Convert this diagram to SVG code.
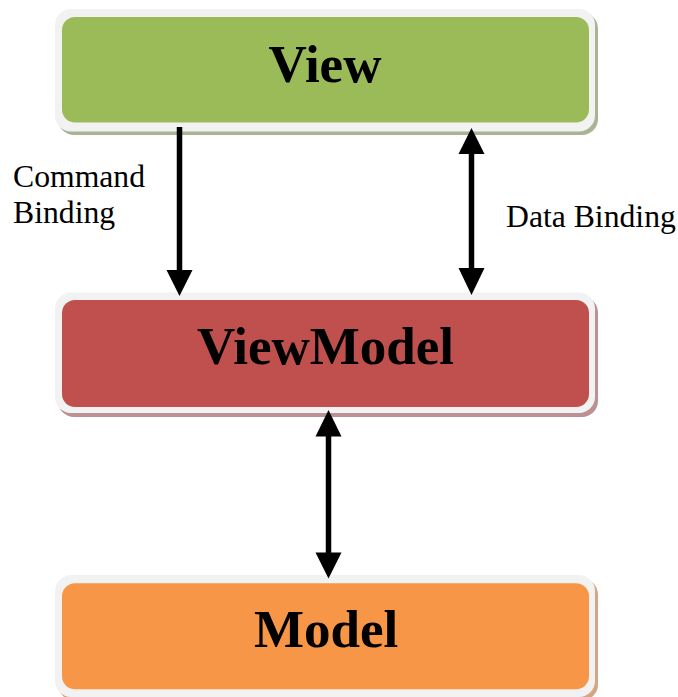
<svg xmlns="http://www.w3.org/2000/svg" width="678" height="697" viewBox="0 0 678 697">
  <style>
    .frame { fill: #f2f2f2; }
    .title { font-family: "Liberation Serif", "Times New Roman", serif; font-weight: bold; font-size: 53px; fill: #000; text-anchor: middle; }
    .label { font-family: "Liberation Serif", "Times New Roman", serif; font-size: 31.7px; fill: #000; }
    .shaft { stroke: #000; stroke-width: 5.5; fill: none; }
    .head { fill: #000; }
  </style>

  <rect width="678" height="697" fill="#ffffff"/>

  <!-- View -->
  <g id="view">
    <rect x="58" y="12.5" width="540" height="122.5" rx="16" fill="#a7b595"/>
    <rect class="frame" x="55" y="9" width="540" height="122.5" rx="16"/>
    <rect x="62" y="17" width="527" height="105.5" rx="13" fill="#9bbb59"/>
    <text class="title" x="325" y="81.5">View</text>
  </g>

  <!-- ViewModel -->
  <g id="viewmodel">
    <rect x="58" y="296.5" width="540" height="120.5" rx="16" fill="#bb9193"/>
    <rect class="frame" x="55" y="292.5" width="540" height="120.5" rx="16"/>
    <rect x="62" y="300" width="527" height="107" rx="13" fill="#c0504d"/>
    <text class="title" x="325.5" y="364">ViewModel</text>
  </g>

  <!-- Model -->
  <g id="model">
    <rect x="58" y="578.5" width="540" height="122" rx="16" fill="#d4a684"/>
    <rect class="frame" x="55" y="575" width="540" height="122" rx="16"/>
    <rect x="62" y="583.3" width="527" height="106" rx="13" fill="#f79646"/>
    <text class="title" x="326" y="647.3">Model</text>
  </g>

  <!-- Connectors -->
  <g id="connectors">
    <!-- Command Binding: View -> ViewModel -->
    <line class="shaft" x1="179.5" y1="127" x2="179.5" y2="272"/>
    <polygon class="head" points="166.5,270 192.5,270 179.5,296"/>

    <!-- Data Binding: View <-> ViewModel -->
    <line class="shaft" x1="471.5" y1="151" x2="471.5" y2="270"/>
    <polygon class="head" points="458.5,154 484.5,154 471.5,128"/>
    <polygon class="head" points="458.5,268 484.5,268 471.5,295"/>

    <!-- ViewModel <-> Model -->
    <line class="shaft" x1="328.5" y1="434" x2="328.5" y2="555"/>
    <polygon class="head" points="315.5,436.5 341.5,436.5 328.5,410"/>
    <polygon class="head" points="315.5,552.5 341.5,552.5 328.5,578.5"/>
  </g>

  <!-- Connector labels -->
  <text class="label" x="13" y="186.7">Command</text>
  <text class="label" x="13" y="223.3">Binding</text>
  <text class="label" x="506" y="226.7">Data Binding</text>
</svg>
